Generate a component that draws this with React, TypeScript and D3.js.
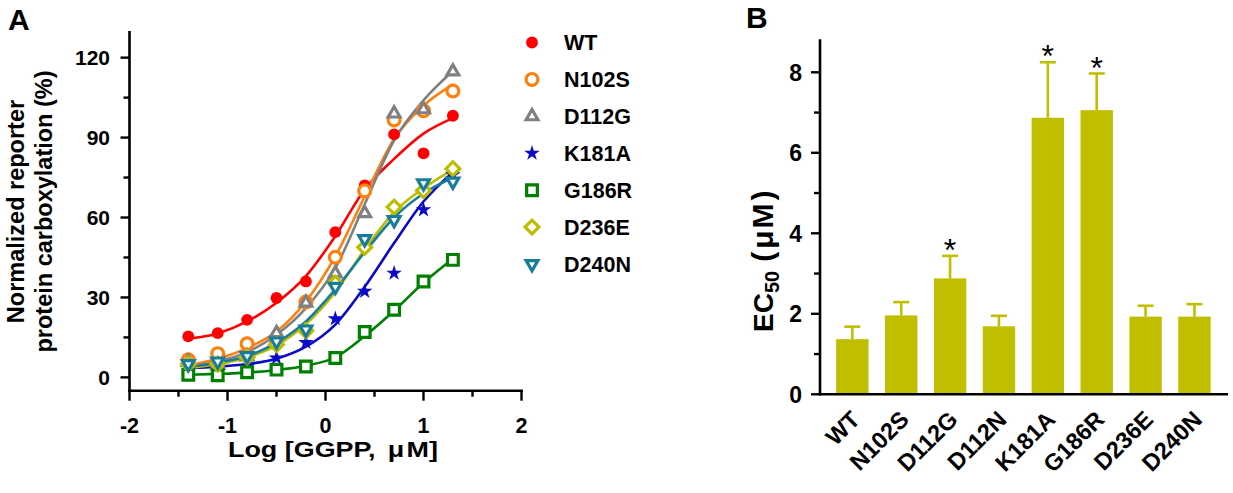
import React from 'react';
import * as d3 from 'd3';

// Panel A: dose response (log GGPP, uM) vs normalized carboxylation (%)
const logDose = [-1.4, -1.1, -0.8, -0.5, -0.2, 0.1, 0.4, 0.7, 1.0, 1.3];

const mutants = ['WT', 'N102S', 'D112G', 'K181A', 'G186R', 'D236E', 'D240N'];
const colors = ['#ff0000', '#ff7f0e', '#808080', '#0a0ac8', '#008000', '#bdbd00', '#187d9a'];
const shapes = ['dot', 'circle', 'triangle', 'star', 'square', 'diamond', 'down'];

// measured points
const wtPts = [15.4, 16.6, 21.6, 29.8, 36, 54.5, 72, 91.2, 84.1, 98.2];
const n102sPts = [6.6, 8.9, 12.6, 13.5, 28.3, 45.1, 70, 96.6, 100.1, 107.5];
const d112gPts = [5.8, 4.6, 7.8, 16.6, 28, 39, 61.6, 99, 100.6, 114.8];
const k181aPts = [3.5, 3.5, 4, 7.3, 13.1, 22, 32.3, 39.1, 62.9, 76];
const g186rPts = [1, 0.8, 1.9, 2.9, 4.1, 7.3, 17, 25.4, 36, 44.1];
const d236ePts = [5, 5, 7.6, 12.3, 17.5, 35.4, 48.8, 63.9, 70.1, 78.3];
const d240nPts = [5, 6, 8, 13.5, 18, 34, 51.9, 59.1, 72.9, 73.5];

// fitted curves, read at the same doses
const wtFit = [14.5, 16.5, 21, 28, 38, 53, 70.5, 82, 91.5, 97.3];
const n102sFit = [4.6, 7, 11, 17.2, 28.5, 45.4, 67.9, 89.5, 102, 110];
const d112gFit = [4, 6, 9.5, 16, 26, 41, 65, 89, 104, 115];
const k181aFit = [3.5, 4, 5, 7, 11.5, 19.8, 34, 50.4, 66, 77];
const g186rFit = [1, 1.3, 1.8, 2.8, 4.4, 7.5, 15.5, 25, 35.5, 44.5];
const d236eFit = [3.5, 5, 7.5, 12, 20, 32, 48, 62, 71, 78];
const d240nFit = [4, 5.5, 8, 13, 21, 33, 47, 60, 69, 75];

const allPts = [wtPts, n102sPts, d112gPts, k181aPts, g186rPts, d236ePts, d240nPts];
const allFits = [wtFit, n102sFit, d112gFit, k181aFit, g186rFit, d236eFit, d240nFit];

const xTicksA = [-2, -1, 0, 1, 2];
const xMinorA = [-1.5, -0.5, 0.5, 1.5];
const yTicksA = [0, 30, 60, 90, 120];
const yMinorA = [15, 45, 75, 105];

// Panel B: EC50 bars
const ecLabels = ['WT', 'N102S', 'D112G', 'D112N', 'K181A', 'G186R', 'D236E', 'D240N'];
const ecMeans = [1.37, 1.96, 2.88, 1.69, 6.87, 7.06, 1.93, 1.93];
const ecErrors = [0.31, 0.33, 0.56, 0.26, 1.38, 0.91, 0.27, 0.31];
const ecSignificant = [false, false, true, false, true, true, false, false];

const yTicksB = [0, 2, 4, 6, 8];
const yMinorB = [1, 3, 5, 7];

const FONT = '"Liberation Sans", Arial, sans-serif';
const BAR = '#bfbf00';

function Marker({ shape, color, x, y }: { shape: string; color: string; x: number; y: number }) {
  const sym = d3.symbol();
  let d = '';
  let rot = 0;
  let fill = 'white';
  if (shape === 'dot') { d = sym.type(d3.symbolCircle).size(110)()!; fill = color; }
  if (shape === 'circle') { d = sym.type(d3.symbolCircle).size(110)()!; }
  if (shape === 'triangle') { d = sym.type(d3.symbolTriangle).size(60)()!; }
  if (shape === 'down') { d = sym.type(d3.symbolTriangle).size(60)()!; rot = 180; }
  if (shape === 'star') { d = sym.type(d3.symbolStar).size(75)()!; fill = color; }
  if (shape === 'square') { d = sym.type(d3.symbolSquare).size(115)()!; }
  if (shape === 'diamond') { d = sym.type(d3.symbolSquare).size(95)()!; rot = 45; }
  const filled = shape === 'dot' || shape === 'star';
  return (
    <path
      d={d}
      transform={`translate(${x},${y}) rotate(${rot})`}
      fill={fill}
      stroke={color}
      strokeWidth={filled ? 0 : 3.2}
    />
  );
}

function PanelA() {
  const x = d3.scaleLinear().domain([-2, 2]).range([129.5, 521.5]);
  const y = d3.scaleLinear().domain([-5, 130]).range([390.7, 31]);
  const line = d3.line<number>()
    .x((_, i) => x(logDose[i]))
    .y(d => y(d))
    .curve(d3.curveMonotoneX);
  const legendY = d3.scaleLinear().domain([0, 6]).range([42.5, 264]);

  return (
    <g fontFamily={FONT} fontWeight="bold">
      <text x={8} y={30} fontSize={30}>A</text>

      {allFits.map((fit, s) => (
        <path key={'f' + s} d={line(fit)!} fill="none" stroke={colors[s]} strokeWidth={2.6} />
      ))}
      {allPts.map((pts, s) => (
        <g key={'p' + s}>
          {pts.map((v, i) => (
            <Marker key={i} shape={shapes[s]} color={colors[s]} x={x(logDose[i])} y={y(v)} />
          ))}
        </g>
      ))}

      {/* axes */}
      <line x1={x(-2)} x2={x(-2)} y1={31} y2={y(-5) + 1.3} stroke="black" strokeWidth={2.6} />
      <line x1={x(-2) - 1.3} x2={x(2) + 1.3} y1={y(-5)} y2={y(-5)} stroke="black" strokeWidth={2.6} />
      {yTicksA.map(t => (
        <g key={t}>
          <line x1={x(-2) - 9} x2={x(-2)} y1={y(t)} y2={y(t)} stroke="black" strokeWidth={2.4} />
          <text x={110} y={y(t)} dy="0.36em" textAnchor="end" fontSize={21}>{t}</text>
        </g>
      ))}
      {yMinorA.map(t => (
        <line key={t} x1={x(-2) - 6} x2={x(-2)} y1={y(t)} y2={y(t)} stroke="black" strokeWidth={2.4} />
      ))}
      {xTicksA.map(t => (
        <g key={t}>
          <line x1={x(t)} x2={x(t)} y1={y(-5)} y2={y(-5) + 10} stroke="black" strokeWidth={2.4} />
          <text x={x(t)} y={432.5} textAnchor="middle" fontSize={21.5}>{t}</text>
        </g>
      ))}
      {xMinorA.map(t => (
        <line key={t} x1={x(t)} x2={x(t)} y1={y(-5)} y2={y(-5) + 6} stroke="black" strokeWidth={2.4} />
      ))}

      <text x={228} y={457} fontSize={22.5} textLength={210} lengthAdjust="spacingAndGlyphs">
        Log [GGPP, <tspan dx={4}>μ</tspan><tspan dx={2}>M]</tspan>
      </text>
      <text transform="translate(23.5,211.5) rotate(-90)" textAnchor="middle" fontSize={23.5}>Normalized reporter</text>
      <text transform="translate(52,211.5) rotate(-90)" textAnchor="middle" fontSize={23.5}>protein carboxylation (%)</text>

      {/* legend */}
      {mutants.map((m, i) => (
        <g key={m}>
          <Marker shape={shapes[i]} color={colors[i]} x={532} y={legendY(i)} />
          <text x={564} y={legendY(i)} dy="0.36em" fontSize={21.5}>{m}</text>
        </g>
      ))}
    </g>
  );
}

function PanelB() {
  const x = d3.scaleBand<string>().domain(ecLabels).range([827.9, 1218.9])
    .paddingInner(0.337).paddingOuter(0.1685);
  const y = d3.scaleLinear().domain([0, 8.8]).range([394.3, 40.1]);
  const bw = x.bandwidth();

  return (
    <g fontFamily={FONT} fontWeight="bold">
      <text x={746} y={28} fontSize={30}>B</text>

      {ecLabels.map((c, i) => {
        const cx = x(c)! + bw / 2;
        const top = y(ecMeans[i] + ecErrors[i]);
        return (
          <g key={c}>
            <rect x={x(c)} y={y(ecMeans[i])} width={bw} height={y(0) - y(ecMeans[i])} fill={BAR} />
            <line x1={cx} x2={cx} y1={y(ecMeans[i])} y2={top} stroke={BAR} strokeWidth={2.6} />
            <line x1={cx - 8} x2={cx + 8} y1={top} y2={top} stroke={BAR} strokeWidth={2.6} />
            {ecSignificant[i] && (
              <text x={cx} y={top + 5} textAnchor="middle" fontSize={32} fontWeight="normal">*</text>
            )}
            <text transform={`translate(${cx + 9},${421}) rotate(-45)`} textAnchor="end" fontSize={23.5}>{c}</text>
          </g>
        );
      })}

      <line x1={820} x2={820} y1={39.3} y2={y(0) + 1.3} stroke="black" strokeWidth={2.6} />
      <line x1={820} x2={1228} y1={y(0)} y2={y(0)} stroke="black" strokeWidth={2.6} />
      {yTicksB.map(t => (
        <g key={t}>
          <line x1={811} x2={820} y1={y(t)} y2={y(t)} stroke="black" strokeWidth={2.4} />
          <text x={802} y={y(t)} dy="0.36em" textAnchor="end" fontSize={23}>{t}</text>
        </g>
      ))}
      {yMinorB.map(t => (
        <line key={t} x1={814} x2={820} y1={y(t)} y2={y(t)} stroke="black" strokeWidth={2.4} />
      ))}

      <text transform="translate(773,332) rotate(-90)" fontSize={28}>
        EC<tspan fontSize={20} dy={6}>50</tspan>
        <tspan dy={-6} dx={9} fontSize={30}>(</tspan>
        <tspan dx={3} fontSize={30}>μ</tspan>
        <tspan dx={2} fontSize={30}>M</tspan>
        <tspan dx={3} fontSize={30}>)</tspan>
      </text>
    </g>
  );
}

export default function App() {
  return (
    <svg width={1233} height={493} style={{ position: 'absolute', left: 0, top: 0, background: 'white' }}>
      <rect width={1233} height={493} fill="white" />
      <PanelA />
      <PanelB />
    </svg>
  );
}
